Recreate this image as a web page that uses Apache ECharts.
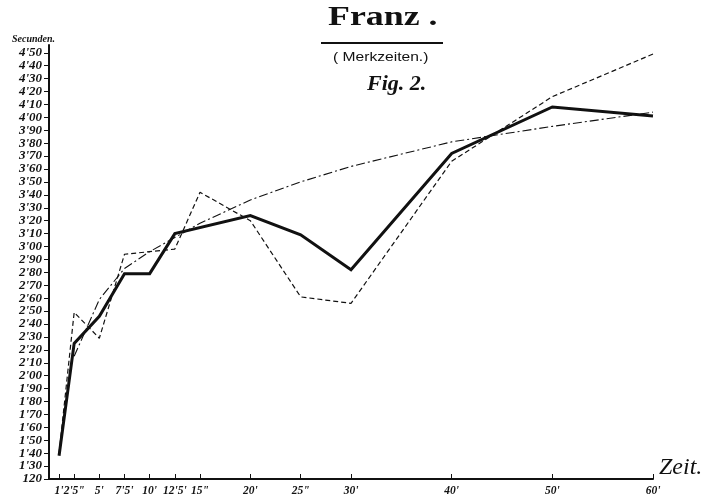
<!DOCTYPE html>
<html>
<head>
<meta charset="utf-8">
<script src="https://cdn.jsdelivr.net/npm/echarts@6/dist/echarts.min.js"></script>
<style>
html,body{margin:0;padding:0;background:#fff;}
#c{width:704px;height:497px;}
</style>
</head>
<body>
<div id="c"></div>
<script>
// minutes (Zeit) at which the curves are marked
const xTicks = [1, 2.5, 5, 7.5, 10, 12.5, 15, 20, 25, 30, 40, 50, 60];
const xTickLabels = ["1'", "2'5\"", "5'", "7'5'", "10'", "12'5'", "15\"", "20'", "25\"", "30'", "40'", "50'", "60'"];
// seconds axis ticks
const yTicks = [120,130,140,150,160,170,180,190,200,210,220,230,240,250,260,270,280,290,300,310,320,330,340,350,360,370,380,390,400,410,420,430,440,450];
const yTickLabels = ["120","1'30","1'40","1'50","1'60","1'70","1'80","1'90","2'00","2'10","2'20","2'30","2'40","2'50","2'60","2'70","2'80","2'90","3'00","3'10","3'20","3'30","3'40","3'50","3'60","3'70","3'80","3'90","4'00","4'10","4'20","4'30","4'40","4'50"];

// thick solid curve
const solidX = [1, 2.5, 5, 7.5, 10, 12.5, 20, 25, 30, 40, 50, 60];
const solidY = [138, 225, 246, 279, 279, 310, 324, 309, 282, 372, 408, 401];
// dashed curve
const dashedX = [1, 2.5, 5, 7.5, 12.5, 15, 20, 25, 30, 40, 50, 60];
const dashedY = [140, 249, 229, 294, 298, 342, 320, 261, 256, 366, 416, 449];
// dash-dot curve
const dashDotX = [2.5, 5, 7.5, 10, 12.5, 15, 20, 25, 30, 40, 50, 60];
const dashDotY = [215, 259, 283, 296, 307, 318, 336, 350, 362, 381, 393, 404];

const pair = (xs, ys) => xs.map((x, i) => [x, ys[i]]);
const ink = '#111';
const serif = '"Liberation Serif", "DejaVu Serif", serif';

const chart = echarts.init(document.getElementById('c'));
chart.setOption({
  backgroundColor: '#fff',
  animation: false,
  grid: {left: 49, right: 51, top: 45, bottom: 18},
  xAxis: {
    type: 'value', min: 0, max: 60,
    splitLine: {show: false},
    axisLine: {show: true, onZero: false, lineStyle: {color: ink, width: 2}},
    axisTick: {show: true, inside: true, length: 5, customValues: xTicks, lineStyle: {color: ink, width: 1}},
    axisLabel: {
      customValues: xTicks, margin: 6, color: ink, hideOverlap: false,
      fontFamily: serif, fontStyle: 'italic', fontWeight: 'bold', fontSize: 11.5,
      formatter: v => xTickLabels[xTicks.indexOf(v)] || ''
    }
  },
  yAxis: {
    type: 'value', min: 120, max: 456,
    splitLine: {show: false},
    axisLine: {show: true, onZero: false, lineStyle: {color: ink, width: 2}},
    axisTick: {show: true, inside: false, length: 5, customValues: yTicks, lineStyle: {color: ink, width: 1}},
    axisLabel: {
      customValues: yTicks, margin: 7, color: ink, hideOverlap: false,
      fontFamily: serif, fontStyle: 'italic', fontWeight: 'bold', fontSize: 13,
      formatter: v => yTickLabels[yTicks.indexOf(v)] || ''
    }
  },
  series: [
    {type: 'line', data: pair(dashDotX, dashDotY), symbol: 'none',
     lineStyle: {color: ink, width: 1.1, type: [9, 3, 2, 3]}},
    {type: 'line', data: pair(dashedX, dashedY), symbol: 'none',
     lineStyle: {color: ink, width: 1.2, type: [5, 3]}},
    {type: 'line', data: pair(solidX, solidY), symbol: 'none',
     lineStyle: {color: ink, width: 3, join: 'miter'}}
  ],
  graphic: [
    {type: 'text', x: 328, y: 4, scaleX: 1.28, style: {text: 'Franz .', font: 'bold 28px ' + serif, fill: ink}},
    {type: 'line', shape: {x1: 321, y1: 43, x2: 443, y2: 43}, style: {stroke: ink, lineWidth: 2}},
    {type: 'text', x: 333, y: 51, scaleX: 1.2, style: {text: '( Merkzeiten.)', font: '13px "Liberation Sans Narrow", "Liberation Sans", sans-serif', fill: ink}},
    {type: 'text', x: 367, y: 73, style: {text: 'Fig. 2.', font: 'italic bold 22px ' + serif, fill: ink}},
    {type: 'text', x: 12, y: 34, style: {text: 'Secunden.', font: 'italic bold 10px ' + serif, fill: ink}},
    {type: 'text', x: 659, y: 456, style: {text: 'Zeit.', font: 'italic 24px ' + serif, fill: ink}}
  ]
});
</script>
</body>
</html>
